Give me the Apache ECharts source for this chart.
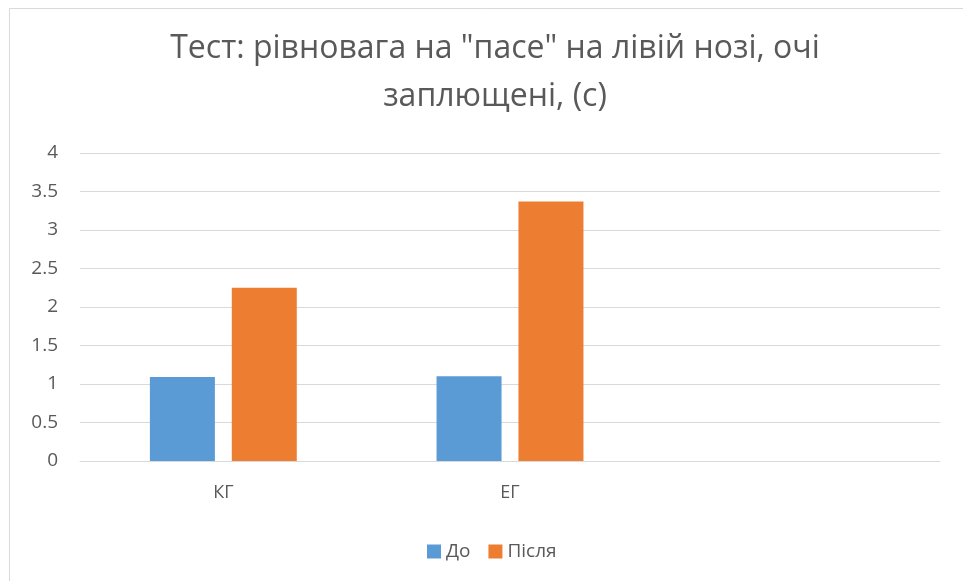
<!DOCTYPE html>
<html>
<head>
<meta charset="utf-8">
<script src="https://cdn.jsdelivr.net/npm/echarts@6/dist/echarts.min.js"></script>
<style>
  html, body { margin: 0; padding: 0; background: #fff; }
  #chart { width: 963px; height: 581px; }
</style>
</head>
<body>
<div id="chart"></div>
<script>
const titleText = 'Тест: рівновага на "пасе" на лівій нозі, очі\nзаплющені, (с)';
const categories = ["КГ", "ЕГ", ""];
const seriesNames = ["До", "Після"];
const beforeValues = [1.09, 1.1, null];
const afterValues = [2.25, 3.37, null];
const colors = ["#5b9bd5", "#ed7d31"];

const font = "'Open Sans', 'Noto Sans', sans-serif";
const chart = echarts.init(document.getElementById("chart"));

chart.setOption({
  animation: false,
  color: colors,
  textStyle: { fontFamily: font },
  graphic: [
    {
      type: "rect",
      shape: { x: 9.5, y: 8.5, width: 1200, height: 1200 },
      style: { fill: "none", stroke: "#d9d9d9", lineWidth: 1 },
      silent: true
    }
  ],
  title: {
    text: titleText,
    left: 490,
    textAlign: "center",
    top: 20,
    textStyle: {
      fontFamily: font,
      fontWeight: "normal",
      fontSize: 32,
      lineHeight: 48,
      color: "#595959"
    }
  },
  legend: {
    data: seriesNames,
    left: 422,
    top: 537,
    itemWidth: 14,
    itemHeight: 14,
    itemGap: 18,
    icon: "rect",
    textStyle: { fontFamily: font, fontSize: 19, color: "#595959" }
  },
  grid: { left: 80, right: 23, top: 153, bottom: 120 },
  xAxis: {
    type: "category",
    data: categories,
    axisLine: { lineStyle: { color: "#d9d9d9" } },
    axisTick: { show: false },
    axisLabel: { fontFamily: font, fontSize: 18, color: "#595959", margin: 23 }
  },
  yAxis: {
    type: "value",
    min: 0,
    max: 4,
    interval: 0.5,
    axisLine: { show: false },
    axisTick: { show: false },
    splitLine: { lineStyle: { color: "#d9d9d9", width: 1 } },
    axisLabel: { fontFamily: font, fontSize: 19, color: "#595959", margin: 22 }
  },
  series: [
    {
      name: seriesNames[0],
      type: "bar",
      data: beforeValues,
      barWidth: 65,
      barGap: "26%"
    },
    {
      name: seriesNames[1],
      type: "bar",
      data: afterValues,
      barWidth: 65,
      barGap: "26%"
    }
  ]
});
</script>
</body>
</html>
